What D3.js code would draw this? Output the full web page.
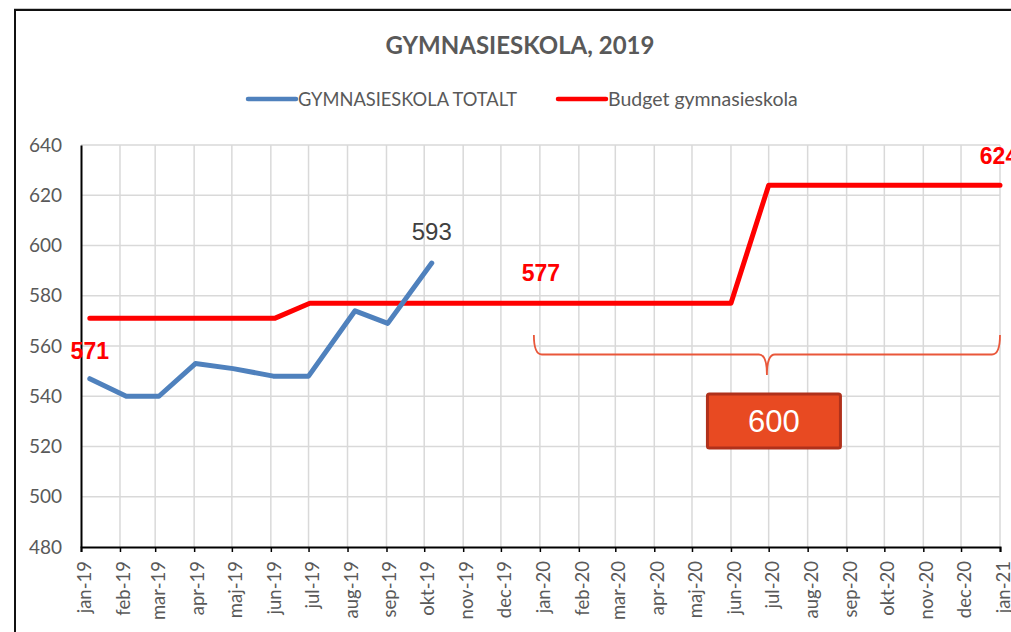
<!DOCTYPE html>
<html>
<head>
<meta charset="utf-8">
<script src="https://cdn.jsdelivr.net/npm/d3@7"></script>
<style>
  body { margin: 0; background: #fff; }
  svg { display: block; font-family: Lato, "Open Sans", sans-serif; }
</style>
</head>
<body>
<div id="chart"></div>
<script>
// -------------------- DATA --------------------
const actualDates = ["2019-01-08","2019-02-06","2019-03-04","2019-04-02","2019-05-02",
  "2019-06-03","2019-07-01","2019-08-07","2019-09-02","2019-10-07"];
const actualValues = [547, 540, 540, 553, 551, 548, 548, 574, 569, 593];

const budgetDates = ["2019-01-08","2019-02-06","2019-03-04","2019-04-02","2019-05-02",
  "2019-06-04","2019-07-02","2019-08-07","2019-09-02","2019-10-07","2019-11-01","2019-12-01",
  "2020-01-01","2020-02-01","2020-03-01","2020-04-01","2020-05-01","2020-06-01",
  "2020-07-01","2020-08-01","2020-09-01","2020-10-01","2020-11-01","2020-12-01","2021-01-01"];
const budgetValues = [571, 571, 571, 571, 571, 571, 577, 577, 577, 577, 577, 577,
  577, 577, 577, 577, 577, 577, 624, 624, 624, 624, 624, 624, 624];

const seriesNames = ["GYMNASIESKOLA TOTALT", "Budget gymnasieskola"];
const monthAbbr = ["jan","feb","mar","apr","maj","jun","jul","aug","sep","okt","nov","dec"];
const yTicks = [480, 500, 520, 540, 560, 580, 600, 620, 640];

// brace + callout: spans jan-20..jan-21, average value shown in box
const braceDates = ["2020-01-01", "2021-01-01"];
const braceValue = 600;

// -------------------- LAYOUT --------------------
const W = 1011, H = 632;
const parse = d3.timeParse("%Y-%m-%d");
const blue = "#4f81bd", red = "#ff0000", grey = "#595959";

const actual = actualDates.map((d, i) => ({ date: parse(d), value: actualValues[i] }));
const budget = budgetDates.map((d, i) => ({ date: parse(d), value: budgetValues[i] }));

const x = d3.scaleTime()
  .domain([parse("2019-01-01"), parse("2021-01-01")])
  .range([81, 1000]);

const y = d3.scaleLinear()
  .domain([480, 640])
  .range([547, 145]);

const svg = d3.select("#chart").append("svg")
  .attr("width", W)
  .attr("height", H);

// chart frame
svg.append("line").attr("x1", 14).attr("x2", W).attr("y1", 8.5).attr("y2", 8.5)
  .attr("stroke", "#c8c8c8").attr("stroke-width", 1);
svg.append("rect")
  .attr("x", 15).attr("y", 10).attr("width", W + 20).attr("height", H + 20)
  .attr("fill", "#fff").attr("stroke", "#111").attr("stroke-width", 2);

// title
svg.append("text")
  .attr("x", 520).attr("y", 54)
  .attr("text-anchor", "middle")
  .attr("font-size", 24).attr("font-weight", "bold")
  .attr("fill", grey)
  .text("GYMNASIESKOLA, 2019");

// legend
const legend = [
  { name: seriesNames[0], color: blue, x: 248, size: 18.3 },
  { name: seriesNames[1], color: red, x: 558, size: 19.5 }
];
legend.forEach(l => {
  svg.append("line")
    .attr("x1", l.x).attr("x2", l.x + 48).attr("y1", 99).attr("y2", 99)
    .attr("stroke", l.color).attr("stroke-width", 4.5).attr("stroke-linecap", "round");
  svg.append("text")
    .attr("x", l.x + 50).attr("y", 105.5)
    .attr("font-size", l.size).attr("fill", grey)
    .text(l.name);
});

// grid
const months = d3.timeMonth.range(x.domain()[0], d3.timeDay.offset(x.domain()[1], 1));

svg.append("g")
  .selectAll("line")
  .data(yTicks.slice(1))
  .join("line")
  .attr("x1", x.range()[0]).attr("x2", x.range()[1])
  .attr("y1", d => y(d)).attr("y2", d => y(d))
  .attr("stroke", "#d9d9d9").attr("stroke-width", 1.5);

svg.append("g")
  .selectAll("line")
  .data(months.slice(1))
  .join("line")
  .attr("x1", d => x(d)).attr("x2", d => x(d))
  .attr("y1", y(480)).attr("y2", y(640))
  .attr("stroke", "#d9d9d9").attr("stroke-width", 1.5);

// axes
const xAxis = d3.axisBottom(x)
  .tickValues(months)
  .tickSize(5)
  .tickFormat(d => monthAbbr[d.getMonth()] + "-" + String(d.getFullYear()).slice(2));

const gx = svg.append("g")
  .attr("transform", `translate(0,${y(480)})`)
  .call(xAxis);
gx.select(".domain").attr("stroke", "#000").attr("stroke-width", 2);
gx.selectAll(".tick line").attr("stroke", "#000").attr("stroke-width", 1.5);
gx.selectAll(".tick text")
  .attr("font-size", 18.5).attr("font-family", "Lato, sans-serif")
  .attr("fill", grey)
  .attr("text-anchor", "end")
  .attr("transform", "translate(3,14) rotate(-90)")
  .attr("x", 0).attr("y", 0).attr("dy", "0.35em");

const gy = svg.append("g")
  .attr("transform", `translate(${x.range()[0]},0)`)
  .call(d3.axisLeft(y).tickValues(yTicks).tickSize(0).tickPadding(19));
gy.select(".domain").attr("stroke", "#000").attr("stroke-width", 2);
gy.selectAll(".tick text")
  .attr("font-size", 19).attr("font-family", "Lato, sans-serif")
  .attr("fill", grey);

// lines
const line = d3.line()
  .x(d => x(d.date))
  .y(d => y(d.value));

svg.append("path")
  .datum(budget)
  .attr("fill", "none").attr("stroke", red).attr("stroke-width", 5)
  .attr("stroke-linejoin", "round").attr("stroke-linecap", "round")
  .attr("d", line);

svg.append("path")
  .datum(actual)
  .attr("fill", "none").attr("stroke", blue).attr("stroke-width", 5)
  .attr("stroke-linejoin", "round").attr("stroke-linecap", "round")
  .attr("d", line);

// data labels
const labels = [
  { p: budget[0], dx: 0, dy: 41, color: red, bold: true },
  { p: budget[12], dx: 1, dy: -22, color: red, bold: true },
  { p: budget[budget.length - 1], dx: -1, dy: -21, color: red, bold: true },
  { p: actual[actual.length - 1], dx: 0, dy: -23, color: "#404040", bold: false }
];
labels.forEach(l => {
  svg.append("text")
    .attr("x", x(l.p.date) + l.dx).attr("y", y(l.p.value) + l.dy)
    .attr("text-anchor", "middle")
    .attr("font-family", "'Liberation Sans', Arial, sans-serif")
    .attr("font-size", l.bold ? 23 : 24)
    .attr("font-weight", l.bold ? "bold" : "normal")
    .attr("fill", l.color)
    .text(l.p.value);
});

// brace
const bx0 = x(parse(braceDates[0])) - 6, bx1 = x(parse(braceDates[1]));
const bTop = 335, bMid = 354.5, bTip = 375;
const bxm = (bx0 + bx1) / 2;
const brace = d3.path();
brace.moveTo(bx0, bTop);
brace.quadraticCurveTo(bx0, bMid, bx0 + 8, bMid);
brace.lineTo(bxm - 8, bMid);
brace.quadraticCurveTo(bxm, bMid, bxm, bTip);
brace.quadraticCurveTo(bxm, bMid, bxm + 8, bMid);
brace.lineTo(bx1 - 8, bMid);
brace.quadraticCurveTo(bx1, bMid, bx1, bTop);
svg.append("path")
  .attr("d", brace.toString())
  .attr("fill", "none").attr("stroke", "#e9573a").attr("stroke-width", 1.8);

// callout box
const boxW = 133, boxH = 54;
svg.append("rect")
  .attr("x", bxm + 7 - boxW / 2).attr("y", 394)
  .attr("width", boxW).attr("height", boxH)
  .attr("rx", 2)
  .attr("fill", "#e84a22").attr("stroke", "#b0311b").attr("stroke-width", 3);
svg.append("text")
  .attr("x", bxm + 7).attr("y", 432)
  .attr("text-anchor", "middle")
  .attr("font-family", "'Liberation Sans', Arial, sans-serif")
  .attr("font-size", 31).attr("fill", "#fff")
  .text(braceValue);
</script>
</body>
</html>
